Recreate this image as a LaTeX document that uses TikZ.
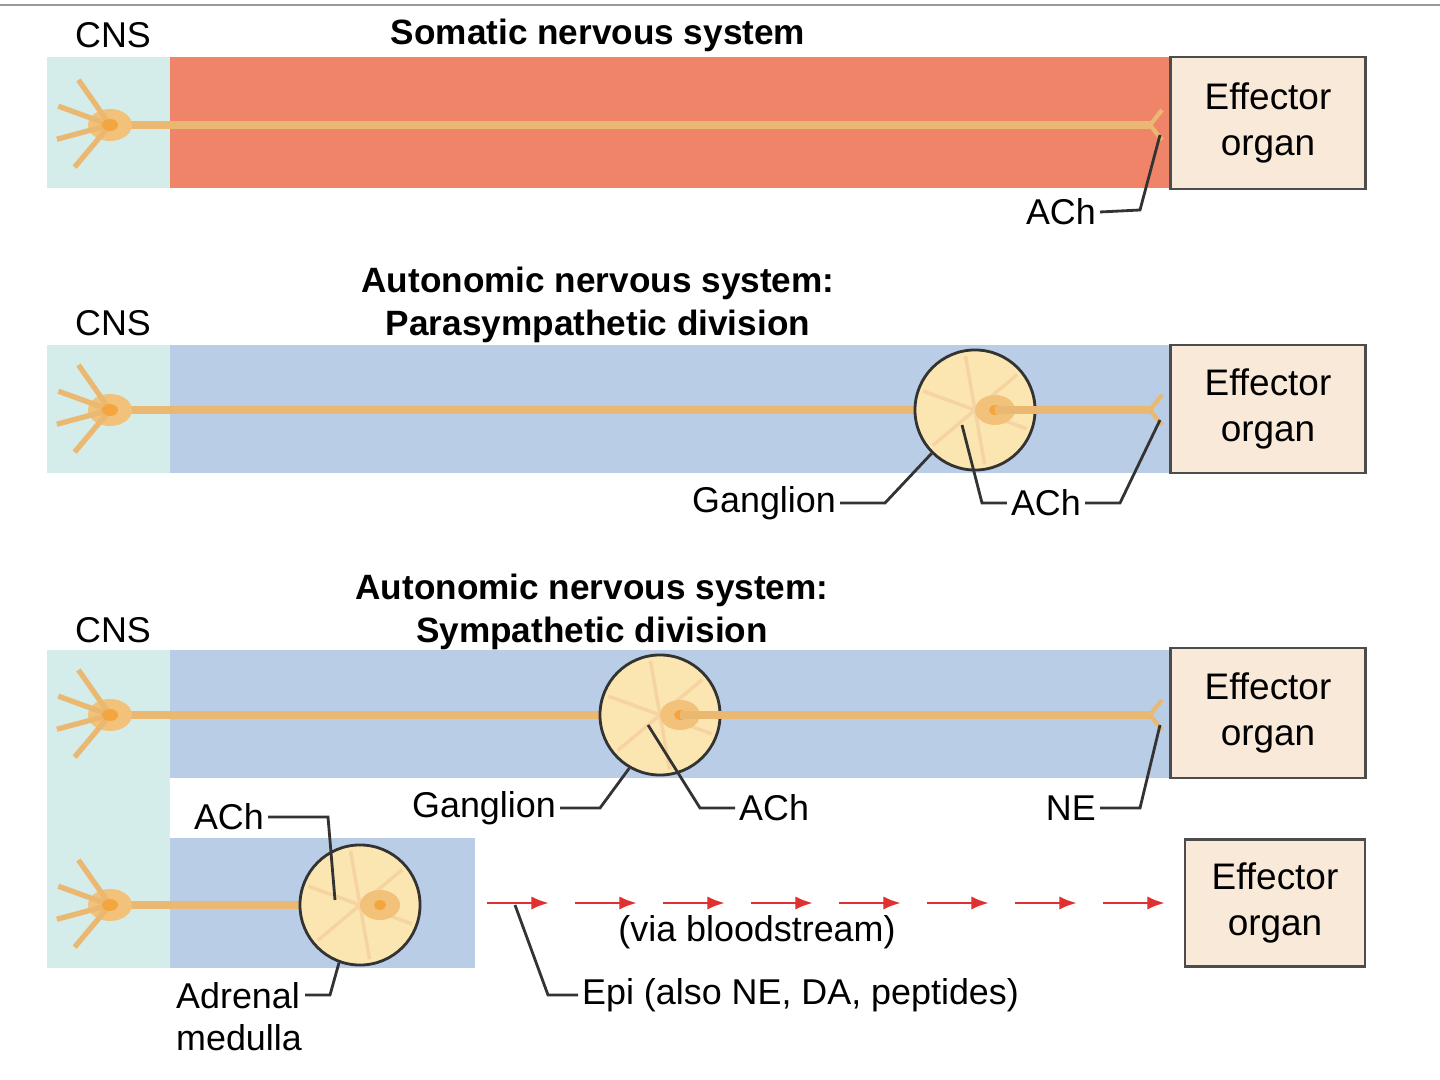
\documentclass[tikz,border=0pt]{standalone}
\usepackage{fontspec}
\setmainfont{Liberation Sans}
\usetikzlibrary{arrows.meta}
\definecolor{cnscol}{HTML}{D4ECEA}
\definecolor{somcol}{HTML}{F08468}
\definecolor{autcol}{HTML}{B9CDE6}
\definecolor{effcol}{HTML}{F9E9D9}
\definecolor{axcol}{HTML}{F2C27A}
\definecolor{somacol}{HTML}{F0B050}
\definecolor{gangcol}{HTML}{FBE6B2}
\definecolor{arrcol}{HTML}{E03030}
\tikzset{
  lbl/.style={font=\fontsize{10.2}{12}\selectfont, inner sep=1pt},
  ttl/.style={font=\fontsize{10}{12}\selectfont\bfseries, align=center},
  effector/.style={draw=black!70, fill=effcol, thick, font=\fontsize{10.5}{13}\selectfont, align=center},
  axon/.style={axcol!85!brown, line width=2.2pt},
  pointer/.style={black!80, thick},
  blood/.style={arrcol, thick, -{Latex[length=5pt]}}
}
\newcommand{\neuroncell}[2]{%
  \fill[axcol] (#1,#2) ellipse (22 and 16);
  \foreach \a in {130,165,200,235} \draw[axcol!85!brown, line width=1.5pt] (#1,#2) -- ++(\a:55);
  \fill[somacol!80!orange] (#1,#2) ellipse (8 and 6);}
\newcommand{\ganglioncell}[3]{%
  \node[circle, draw=black!80, thick, fill=gangcol, minimum size=1.2cm, inner sep=0pt] (#3) at (#1,#2) {};
  \foreach \a in {20,80,140,200,260,320} \draw[axcol!70, line width=1pt] (#1,#2) -- ++(\a:55);
  \fill[axcol] (#1+20,#2) ellipse (20 and 15);
  \fill[somacol!80!orange] (#1+20,#2) ellipse (6 and 5);}
\begin{document}
\begin{tikzpicture}[x=0.01cm, y=-0.01cm]
  \useasboundingbox (0,0) rectangle (1440,1080);
  \draw[black!40, thick] (0,5) -- (1440,5);

  % Somatic
  \node[lbl] (cns1) at (113,35) {CNS};
  \node[ttl] (title1) at (598,35) {Somatic nervous system};
  \fill[cnscol] (47,57) rectangle (170,188);
  \fill[somcol] (170,57) rectangle (1170,188);
  \node[effector, minimum width=1.95cm, minimum height=1.32cm] (eff1) at (1268,123) {Effector\\organ};
  \draw[axon] (110,125) -- (1150,125);
  \draw[axon, line width=1.2pt] (1150,125) -- (1162,110) (1150,125) -- (1162,140);
  \neuroncell{110}{125}
  \node[lbl, anchor=east] (ach1) at (1100,212) {ACh};
  \draw[pointer] (ach1.east) -- (1140,210) -- (1160,135);

  % Parasympathetic
  \node[lbl] (cns2) at (113,323) {CNS};
  \node[ttl] (title2) at (598,305) {Autonomic nervous system:\\Parasympathetic division};
  \fill[cnscol] (47,345) rectangle (170,473);
  \fill[autcol] (170,345) rectangle (1170,473);
  \node[effector, minimum width=1.95cm, minimum height=1.28cm] (eff2) at (1268,409) {Effector\\organ};
  \draw[axon] (110,410) -- (975,410);
  \ganglioncell{975}{410}{gang2}
  \draw[axon] (995,410) -- (1150,410);
  \draw[axon, line width=1.2pt] (1150,410) -- (1162,395) (1150,410) -- (1162,425);
  \neuroncell{110}{410}
  \node[lbl, anchor=east] (gl2) at (840,503) {Ganglion};
  \draw[pointer] (gl2.east) -- (885,503) -- (gang2.-135);
  \node[lbl, anchor=east] (ach2) at (1085,503) {ACh};
  \draw[pointer] (ach2.west) -- (982,503) -- (962,425);
  \draw[pointer] (ach2.east) -- (1120,503) -- (1160,420);

  % Sympathetic
  \node[lbl] (cns3) at (113,630) {CNS};
  \node[ttl] (title3) at (592,612) {Autonomic nervous system:\\Sympathetic division};
  \fill[cnscol] (47,650) rectangle (170,968);
  \fill[autcol] (170,650) rectangle (1170,778);
  \node[effector, minimum width=1.95cm, minimum height=1.3cm] (eff3) at (1268,713) {Effector\\organ};
  \draw[axon] (110,715) -- (660,715);
  \ganglioncell{660}{715}{gang3}
  \draw[axon] (680,715) -- (1150,715);
  \draw[axon, line width=1.2pt] (1150,715) -- (1162,700) (1150,715) -- (1162,730);
  \neuroncell{110}{715}
  \node[lbl, anchor=east] (gl3) at (560,808) {Ganglion};
  \draw[pointer] (gl3.east) -- (600,808) -- (gang3.-120);
  \node[lbl, anchor=west] (ach3) at (735,808) {ACh};
  \draw[pointer] (ach3.west) -- (700,808) -- (648,725);
  \node[lbl, anchor=east] (ne3) at (1100,808) {NE};
  \draw[pointer] (ne3.east) -- (1140,808) -- (1160,725);

  % Adrenal medulla
  \fill[autcol] (170,838) rectangle (475,968);
  \draw[axon] (110,905) -- (360,905);
  \ganglioncell{360}{905}{gang4}
  \neuroncell{110}{905}
  \node[lbl, anchor=east] (ach4) at (268,817) {ACh};
  \draw[pointer] (ach4.east) -- (328,817) -- (335,900);
  \node[lbl, align=left, anchor=north west] (adr) at (172,978) {Adrenal\\medulla};
  \draw[pointer] (305,995) -- (330,995) -- (gang4.-110);
  \node[effector, minimum width=1.8cm, minimum height=1.27cm] (eff4) at (1275,903) {Effector\\organ};
  \foreach \x in {487,575,663,751,839,927,1015,1103}
    \draw[blood] (\x,903) -- ++(62,0);
  \node[lbl] (via) at (757,932) {(via bloodstream)};
  \node[lbl, anchor=west] (epi) at (578,995) {Epi (also NE, DA, peptides)};
  \draw[pointer] (epi.west) -- (548,995) -- (515,905);
\end{tikzpicture}
\end{document}
